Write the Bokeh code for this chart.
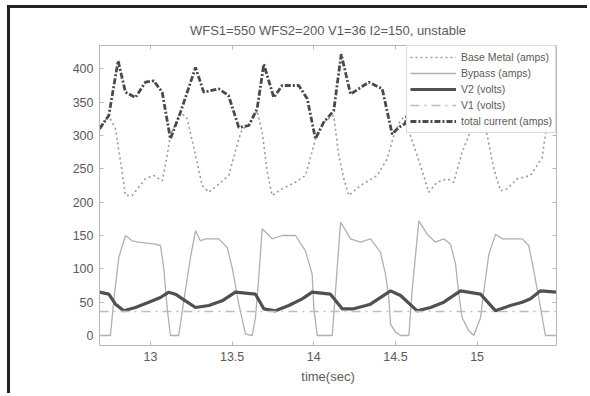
from bokeh.plotting import figure
from bokeh.models import Range1d, LinearAxis, FixedTicker
from bokeh.embed import file_html
from bokeh.resources import INLINE

# ---- data ----
title_text = "WFS1=550 WFS2=200 V1=36 I2=150, unstable"
x_label = "time(sec)"
x_ticks = [13, 13.5, 14, 14.5, 15]
x_tick_labels = ["13", "13.5", "14", "14.5", "15"]
y_ticks = [0, 50, 100, 150, 200, 250, 300, 350, 400]

base_t = [12.688, 12.745, 12.786, 12.827, 12.847, 12.888, 12.969, 13.020, 13.072, 13.102,
          13.122, 13.184, 13.225, 13.276, 13.317, 13.357, 13.408, 13.479, 13.541, 13.562,
          13.602, 13.653, 13.684, 13.715, 13.745, 13.806, 13.888, 13.949, 14.000, 14.017,
          14.061, 14.122, 14.153, 14.184, 14.214, 14.286, 14.388, 14.449, 14.490, 14.530,
          14.560, 14.592, 14.653, 14.704, 14.755, 14.816, 14.857, 14.908, 14.949, 14.990,
          15.030, 15.062, 15.102, 15.143, 15.184, 15.245, 15.327, 15.398, 15.418, 15.450,
          15.486]
base_metal = [310, 330, 310, 245, 210, 210, 235, 240, 232, 270,
              300, 335, 325, 270, 225, 215, 225, 240, 295, 310,
              315, 337, 305, 245, 210, 220, 230, 240, 285, 300,
              320, 330, 270, 235, 210, 225, 240, 265, 300, 322,
              330, 300, 255, 215, 230, 235, 230, 275, 300, 330,
              335, 300, 250, 217, 220, 235, 240, 267, 302, 325,
              335]

bypass_t = [12.688, 12.755, 12.775, 12.806, 12.847, 12.888, 12.928, 13.031, 13.061, 13.081,
            13.102, 13.122, 13.173, 13.204, 13.245, 13.276, 13.306, 13.337, 13.418, 13.470,
            13.500, 13.541, 13.582, 13.623, 13.643, 13.663, 13.684, 13.745, 13.806, 13.888,
            13.949, 13.990, 14.000, 14.021, 14.113, 14.133, 14.164, 14.225, 14.286, 14.347,
            14.408, 14.439, 14.459, 14.470, 14.500, 14.531, 14.582, 14.602, 14.643, 14.694,
            14.745, 14.796, 14.837, 14.868, 14.888, 14.908, 14.949, 14.980, 15.021, 15.041,
            15.072, 15.113, 15.153, 15.204, 15.276, 15.316, 15.347, 15.388, 15.418, 15.486]
bypass = [0, 0, 52, 117, 150, 142, 140, 137, 135, 102,
          42, 0, 0, 52, 117, 157, 142, 145, 145, 132,
          102, 47, 2, 0, 27, 87, 160, 145, 150, 150,
          127, 92, 42, 0, 0, 67, 170, 145, 140, 145,
          125, 92, 57, 17, 5, 0, 0, 67, 172, 152,
          140, 145, 137, 107, 62, 27, 7, 0, 27, 67,
          122, 152, 145, 145, 145, 135, 97, 42, 0, 0]

v2_t = [12.688, 12.745, 12.786, 12.837, 12.908, 12.990, 13.061, 13.112, 13.153, 13.214,
        13.276, 13.357, 13.439, 13.520, 13.643, 13.694, 13.765, 13.847, 13.929, 13.990,
        14.102, 14.174, 14.245, 14.347, 14.470, 14.531, 14.633, 14.715, 14.796, 14.898,
        15.021, 15.113, 15.204, 15.276, 15.327, 15.388, 15.486]
v2 = [65, 62, 47, 37, 42, 50, 57, 65, 62, 52,
      42, 45, 52, 65, 62, 40, 37, 45, 55, 65,
      62, 40, 40, 47, 67, 60, 37, 42, 50, 67,
      62, 37, 45, 50, 55, 67, 65]

v1_t = [12.688, 15.486]
v1 = [36, 36]

total_t = [12.688, 12.745, 12.802, 12.847, 12.908, 12.969, 13.020, 13.072, 13.122, 13.184,
           13.276, 13.326, 13.418, 13.478, 13.541, 13.602, 13.653, 13.694, 13.755, 13.806,
           13.908, 13.960, 14.010, 14.061, 14.122, 14.168, 14.225, 14.337, 14.419, 14.480,
           14.520, 14.560, 14.600, 14.630, 14.690, 14.750, 14.810, 14.860, 14.900, 14.950,
           15.000, 15.050, 15.110, 15.180, 15.260, 15.320, 15.370, 15.420, 15.486]
total_current = [310, 330, 412, 365, 357, 380, 382, 365, 295, 335,
                 402, 365, 370, 360, 312, 315, 340, 407, 357, 375,
                 375, 355, 295, 320, 337, 422, 362, 380, 370, 302,
                 312, 318, 360, 410, 368, 372, 378, 340, 312, 314,
                 335, 415, 362, 370, 378, 340, 312, 318, 335]

FONT = "Liberation Sans"
TXT = "#5a5a5a"
AX = "#b8b8b8"

p = figure(width=580, height=388,
           x_range=Range1d(12.688, 15.486), y_range=Range1d(-15, 435),
           output_backend="svg", toolbar_location=None,
           min_border_left=89, min_border_right=34,
           min_border_top=37, min_border_bottom=51,
           title=title_text)
p.margin = (8, 0, 0, 10)
p.styles = {"box-shadow": "-3px -3px 0 0 #222222"}

p.title.align = "center"
p.title.text_font = FONT
p.title.text_font_size = "13px"
p.title.text_font_style = "normal"
p.title.text_color = TXT
p.title.standoff = 16

p.xgrid.visible = False
p.ygrid.visible = False
p.outline_line_color = AX
p.background_fill_color = "white"
p.border_fill_color = "white"

for ax in (p.xaxis[0], p.yaxis[0]):
    ax.axis_line_color = AX
    ax.major_tick_line_color = AX
    ax.major_tick_in = 4
    ax.major_tick_out = 0
    ax.minor_tick_line_color = None
    ax.major_label_text_font = FONT
    ax.major_label_text_font_size = "12.5px"
    ax.major_label_text_color = TXT
    ax.major_label_standoff = 6

p.xaxis.ticker = FixedTicker(ticks=x_ticks)
p.xaxis.major_label_overrides = {t: l for t, l in zip(x_ticks, x_tick_labels)}
p.yaxis.ticker = FixedTicker(ticks=y_ticks)
p.xaxis.axis_label = x_label
p.xaxis.axis_label_text_font = FONT
p.xaxis.axis_label_text_font_size = "13px"
p.xaxis.axis_label_text_font_style = "normal"
p.xaxis.axis_label_text_color = TXT
p.xaxis.axis_label_standoff = 5

top_ax = LinearAxis(ticker=FixedTicker(ticks=x_ticks),
                    major_label_overrides={t: "" for t in x_ticks})
right_ax = LinearAxis(ticker=FixedTicker(ticks=y_ticks),
                      major_label_overrides={t: "" for t in y_ticks})
for ax in (top_ax, right_ax):
    ax.axis_line_color = AX
    ax.major_tick_line_color = AX
    ax.major_tick_in = 4
    ax.major_tick_out = 0
    ax.minor_tick_line_color = None
    ax.major_label_standoff = 0
p.add_layout(top_ax, "above")
p.add_layout(right_ax, "right")

p.line(base_t, base_metal, line_color="#9a9a9a", line_width=1.6, line_dash="2 3",
       legend_label="Base Metal (amps)")
p.line(bypass_t, bypass, line_color="#b0b0b0", line_width=1.3,
       legend_label="Bypass (amps)")
p.line(v2_t, v2, line_color="#505050", line_width=3.2,
       legend_label="V2 (volts)")
p.line(v1_t, v1, line_color="#bdbdbd", line_width=1.4, line_dash="9 5 2 5",
       legend_label="V1 (volts)")
p.line(total_t, total_current, line_color="#4a4a4a", line_width=2.8, line_dash="6 2 2 2",
       legend_label="total current (amps)")

lg = p.legend[0]
lg.location = "top_right"
lg.margin = 0
lg.padding = 3
lg.spacing = 0
lg.label_height = 16
lg.glyph_height = 16
lg.glyph_width = 46
lg.label_standoff = 5
lg.label_text_font = FONT
lg.label_text_font_size = "10.5px"
lg.label_text_color = TXT
lg.border_line_color = AX
lg.background_fill_color = "white"
lg.background_fill_alpha = 1.0

open("out.html", "w").write(file_html(p, INLINE))
